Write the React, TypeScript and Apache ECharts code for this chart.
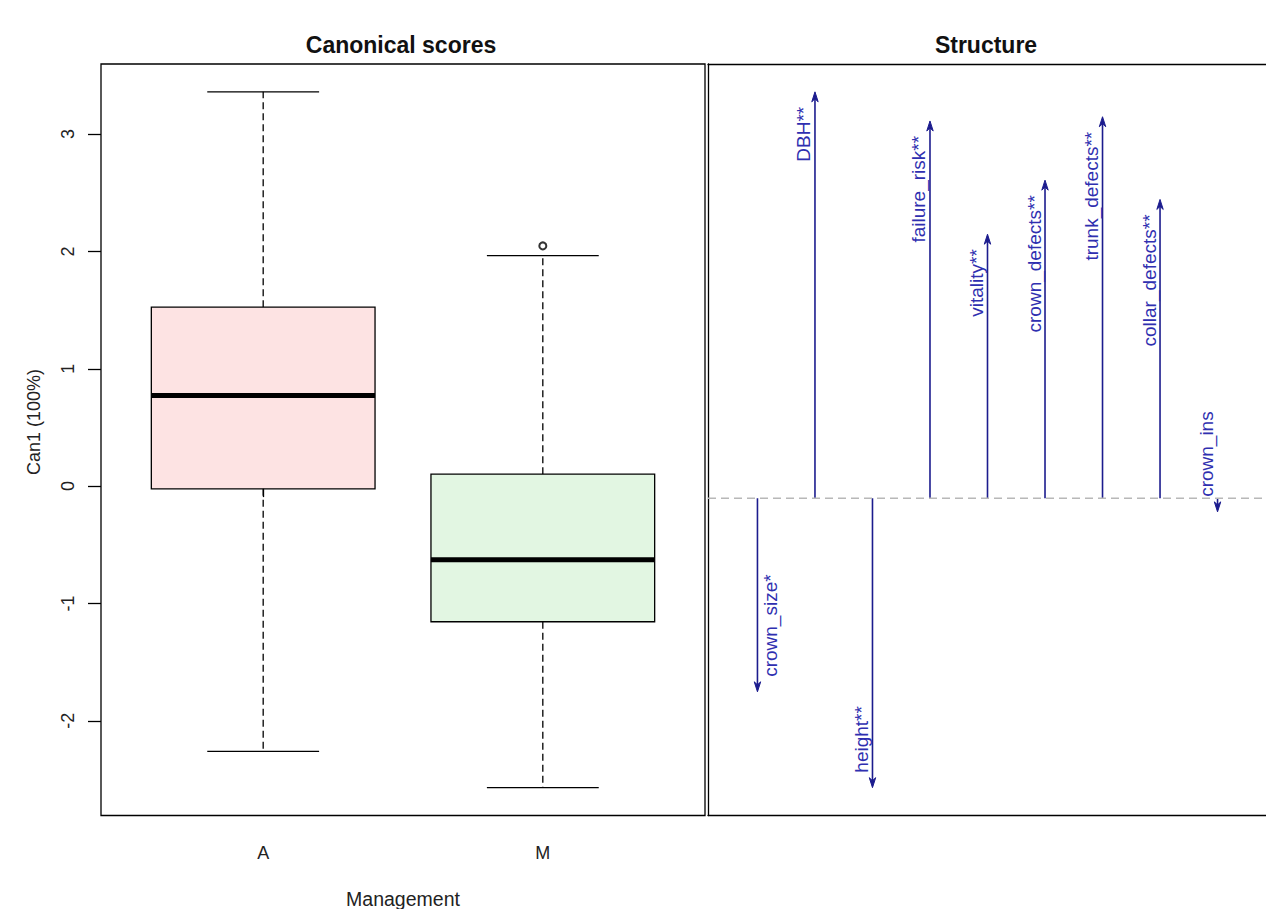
import React, { useEffect, useRef } from "react";
import * as echarts from "echarts";

// ---- Left panel: canonical scores by Management group ----
const groups = ["A", "M"];
const groupX = [1, 2];
const boxLow = [-2.26, -2.57];
const boxQ1 = [-0.023, -1.156];
const boxMedian = [0.772, -0.628];
const boxQ3 = [1.525, 0.102];
const boxHigh = [3.36, 1.964];
const outlierGroup = [2];
const outlierValue = [2.047];
const yTicks = [-2, -1, 0, 1, 2, 3];

// ---- Right panel: structure coefficients ----
const variables = [
  "crown_size*",
  "DBH**",
  "height**",
  "failure_risk**",
  "vitality**",
  "crown_defects**",
  "trunk_defects**",
  "collar_defects**",
  "crown_ins",
];
const structure = [-0.412, 0.865, -0.616, 0.803, 0.562, 0.677, 0.812, 0.636, -0.029];

const FONT = "'Liberation Sans', Arial, Helvetica, sans-serif";
const BOX_FILLS = ["#fde3e3", "#e2f6e2"];
const ARROW_COLOR = "#1c1c8e";
const LABEL_COLOR = "#2f2fb0";
const RIGHT_LABELLED = new Set(["crown_size*"]);

function padRange(lo: number, hi: number): [number, number] {
  const r = hi - lo;
  return [lo - 0.04 * r, hi + 0.04 * r];
}

export default function App() {
  const ref = useRef<HTMLDivElement>(null);

  useEffect(() => {
    if (!ref.current) return;
    const chart = echarts.init(ref.current, undefined, { renderer: "svg" });

    const allScores = [...boxLow, ...boxHigh, ...outlierValue];
    const [yMin, yMax] = padRange(Math.min(...allScores), Math.max(...allScores));
    const [xMin, xMax] = padRange(0.5, groups.length + 0.5);
    const [sMin, sMax] = padRange(Math.min(...structure), Math.max(...structure));
    const [vMin, vMax] = padRange(0.5, variables.length + 0.5);

    const boxData = groupX.map((x, i) => [x, boxLow[i], boxQ1[i], boxMedian[i], boxQ3[i], boxHigh[i]]);
    const arrowData = structure.map((v, i) => [i + 1, v]);

    const frameLine = { show: true, lineStyle: { color: "#000", width: 1.3 } };

    const option: any = {
      animation: false,
      backgroundColor: "#ffffff",
      textStyle: { fontFamily: FONT },
      grid: [
        {
          left: 101,
          top: 64,
          width: 604,
          height: 751.5,
          show: true,
          borderColor: "#000",
          borderWidth: 1.3,
          containLabel: false,
          outerBoundsMode: "none",
        },
        { left: 708, top: 64, width: 559, height: 751.5, show: false, containLabel: false, outerBoundsMode: "none" },
      ],
      xAxis: [
        {
          type: "value",
          gridIndex: 0,
          min: xMin,
          max: xMax,
          splitLine: { show: false },
          axisLine: { show: false },
          axisTick: { show: true, customValues: groupX, length: 11, lineStyle: { color: "#000", width: 1.3 } },
          axisLabel: {
            customValues: groupX,
            formatter: (v: number) => groups[groupX.indexOf(v)] ?? "",
            fontSize: 18,
            color: "#222",
            margin: 28,
            fontFamily: FONT,
          },
          name: "Management",
          nameLocation: "middle",
          nameGap: 73,
          nameTextStyle: { fontSize: 19.5, color: "#222", fontFamily: FONT },
        },
        {
          type: "value",
          gridIndex: 1,
          min: vMin,
          max: vMax,
          position: "bottom",
          axisLine: { ...frameLine, onZero: false },
          axisTick: { show: false },
          axisLabel: { show: false },
          splitLine: { show: false },
        },
        {
          type: "value",
          gridIndex: 1,
          min: vMin,
          max: vMax,
          position: "top",
          axisLine: { ...frameLine, onZero: false },
          axisTick: { show: false },
          axisLabel: { show: false },
          splitLine: { show: false },
        },
      ],
      yAxis: [
        {
          type: "value",
          gridIndex: 0,
          min: yMin,
          max: yMax,
          splitLine: { show: false },
          axisLine: { show: false },
          axisTick: { show: true, customValues: yTicks, length: 13, lineStyle: { color: "#000", width: 1.3 } },
          axisLabel: {
            customValues: yTicks,
            rotate: 90,
            fontSize: 18,
            color: "#222",
            margin: 24,
            fontFamily: FONT,
          },
        },
        {
          type: "value",
          gridIndex: 1,
          min: sMin,
          max: sMax,
          position: "left",
          axisLine: { ...frameLine, onZero: false },
          axisTick: { show: false },
          axisLabel: { show: false },
          splitLine: { show: false },
        },
      ],
      graphic: [
        {
          type: "text",
          x: 401,
          y: 45,
          style: {
            text: "Canonical scores",
            align: "center",
            verticalAlign: "middle",
            font: `bold 23px ${FONT}`,
            fill: "#111",
          },
        },
        {
          type: "text",
          x: 986,
          y: 45,
          style: {
            text: "Structure",
            align: "center",
            verticalAlign: "middle",
            font: `bold 23px ${FONT}`,
            fill: "#111",
          },
        },
        {
          type: "text",
          x: 34,
          y: 422,
          rotation: Math.PI / 2,
          style: {
            text: "Can1 (100%)",
            align: "center",
            verticalAlign: "middle",
            font: `18px ${FONT}`,
            fill: "#222",
          },
        },
      ],
      series: [
        {
          type: "custom",
          name: "Canonical scores",
          xAxisIndex: 0,
          yAxisIndex: 0,
          data: boxData,
          encode: { x: 0, y: [1, 2, 3, 4, 5] },
          renderItem: (params: any, api: any) => {
            const x = api.value(0);
            const idx = params.dataIndex;
            const pLow = api.coord([x, api.value(1)]);
            const pQ1 = api.coord([x, api.value(2)]);
            const pMed = api.coord([x, api.value(3)]);
            const pQ3 = api.coord([x, api.value(4)]);
            const pHigh = api.coord([x, api.value(5)]);
            const boxW = api.size([0.8, 0])[0];
            const capW = boxW / 2;
            const cx = pMed[0];
            const thin = { stroke: "#000", lineWidth: 1.3 };
            const dashed = { stroke: "#000", lineWidth: 1.3, lineDash: [7, 4] };
            return {
              type: "group",
              children: [
                { type: "line", shape: { x1: cx, y1: pQ1[1], x2: cx, y2: pLow[1] }, style: dashed },
                { type: "line", shape: { x1: cx, y1: pQ3[1], x2: cx, y2: pHigh[1] }, style: dashed },
                { type: "line", shape: { x1: cx - capW / 2, y1: pLow[1], x2: cx + capW / 2, y2: pLow[1] }, style: thin },
                { type: "line", shape: { x1: cx - capW / 2, y1: pHigh[1], x2: cx + capW / 2, y2: pHigh[1] }, style: thin },
                {
                  type: "rect",
                  shape: { x: cx - boxW / 2, y: pQ3[1], width: boxW, height: pQ1[1] - pQ3[1] },
                  style: { fill: BOX_FILLS[idx % BOX_FILLS.length], stroke: "#000", lineWidth: 1.3 },
                },
                {
                  type: "line",
                  shape: { x1: cx - boxW / 2, y1: pMed[1], x2: cx + boxW / 2, y2: pMed[1] },
                  style: { stroke: "#000", lineWidth: 5 },
                },
              ],
            };
          },
        },
        {
          type: "scatter",
          name: "Outliers",
          xAxisIndex: 0,
          yAxisIndex: 0,
          data: outlierGroup.map((g, i) => [g, outlierValue[i]]),
          symbol: "emptyCircle",
          symbolSize: 7,
          itemStyle: { color: "#000", borderWidth: 1.2 },
        },
        {
          type: "line",
          name: "zero",
          xAxisIndex: 1,
          yAxisIndex: 1,
          data: [
            [vMin, 0],
            [vMax, 0],
          ],
          symbol: "none",
          lineStyle: { color: "#b8b8b8", width: 1.3, type: [8, 5] },
          silent: true,
        },
        {
          type: "custom",
          name: "Structure",
          xAxisIndex: 1,
          yAxisIndex: 1,
          data: arrowData,
          encode: { x: 0, y: 1 },
          renderItem: (params: any, api: any) => {
            const i = api.value(0);
            const v = api.value(1);
            const label = variables[params.dataIndex];
            const base = api.coord([i, 0]);
            const tip = api.coord([i, v]);
            const dir = v >= 0 ? -1 : 1; // screen direction of arrow
            const headLen = 10;
            const headHalf = 3.2;
            const right = RIGHT_LABELLED.has(label);
            return {
              type: "group",
              children: [
                {
                  type: "line",
                  shape: { x1: base[0], y1: base[1], x2: tip[0], y2: tip[1] - dir * 4 },
                  style: { stroke: ARROW_COLOR, lineWidth: 1.6 },
                },
                {
                  type: "polygon",
                  shape: {
                    points: [
                      [tip[0], tip[1]],
                      [tip[0] - headHalf, tip[1] - dir * headLen],
                      [tip[0], tip[1] - dir * (headLen - 3)],
                      [tip[0] + headHalf, tip[1] - dir * headLen],
                    ],
                  },
                  style: { fill: ARROW_COLOR, stroke: ARROW_COLOR, lineWidth: 1 },
                },
                {
                  type: "text",
                  x: tip[0] + (right ? 13 : -11),
                  y: tip[1] - dir * 15,
                  rotation: Math.PI / 2,
                  style: {
                    text: label,
                    align: v >= 0 ? "right" : "left",
                    verticalAlign: "middle",
                    fontSize: 19,
                    fontFamily: FONT,
                    fill: LABEL_COLOR,
                  },
                },
              ],
            };
          },
        },
      ],
    };

    chart.setOption(option);
    return () => chart.dispose();
  }, []);

  return (
    <div
      ref={ref}
      style={{ position: "absolute", left: 0, top: 0, width: 1266, height: 909, background: "#fff" }}
    />
  );
}
